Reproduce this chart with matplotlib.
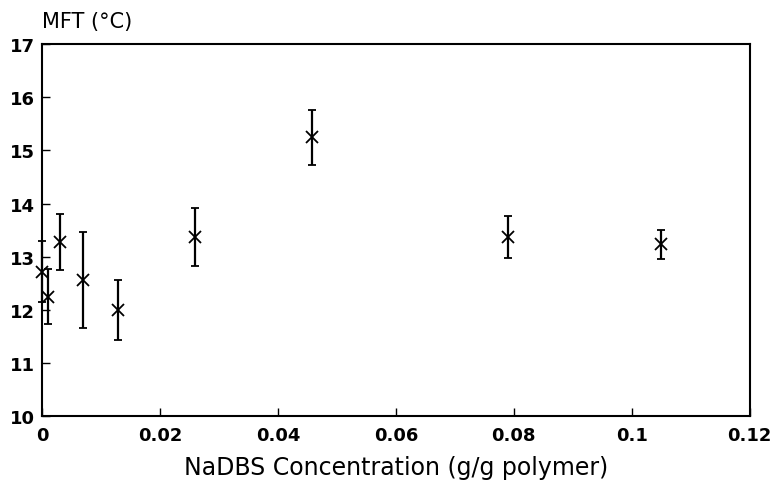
import matplotlib
matplotlib.use("Agg")
import matplotlib.pyplot as plt
from matplotlib.ticker import MultipleLocator, FuncFormatter
import matplotlib.transforms as mtransforms

conc = [0.0, 0.001, 0.003, 0.007, 0.0128, 0.026, 0.0458, 0.079, 0.105]
mft = [12.72, 12.25, 13.27, 12.56, 12.0, 13.37, 15.25, 13.37, 13.23]
err = [0.57, 0.52, 0.53, 0.9, 0.57, 0.54, 0.52, 0.4, 0.28]

plt.rcParams['font.family'] = ['DejaVu Sans']

fig = plt.figure(figsize=(7.71, 4.81), dpi=100)
ax = fig.add_axes([0.0545, 0.133, 0.918, 0.773])

cont = ax.errorbar(conc, mft, yerr=err, fmt='x', color='black', markersize=9,
                   markeredgewidth=1.3, elinewidth=1.6, capsize=3, capthick=1.6)
for art in cont.get_children():
    art.set_clip_on(False)

ax.set_xlim(0, 0.12)
ax.set_ylim(10, 17)
ax.xaxis.set_major_locator(MultipleLocator(0.02))
ax.yaxis.set_major_locator(MultipleLocator(1))

def fmt(v, pos):
    if abs(v) < 1e-12:
        return '0'
    return ('%.2f' % v).rstrip('0')
ax.xaxis.set_major_formatter(FuncFormatter(fmt))

ax.tick_params(direction='in', length=6, width=1, labelsize=13, pad=7,
               top=False, right=False)
ax.tick_params(axis='y', pad=5)
for lab in ax.get_xticklabels() + ax.get_yticklabels():
    lab.set_fontweight('bold')
for sp in ax.spines.values():
    sp.set_linewidth(1.5)

# keep the last x tick label inside the canvas
fig.canvas.draw()
last = ax.get_xticklabels()[-1]
last.set_transform(last.get_transform() + mtransforms.ScaledTranslation(-3/100, 0, fig.dpi_scale_trans))

ax.set_xlabel('NaDBS Concentration (g/g polymer)', fontsize=17, labelpad=8)
fig.text(0.054, 0.955, 'MFT (°C)', fontsize=15, ha='left', va='center')

fig.savefig('out.png', dpi=100)
